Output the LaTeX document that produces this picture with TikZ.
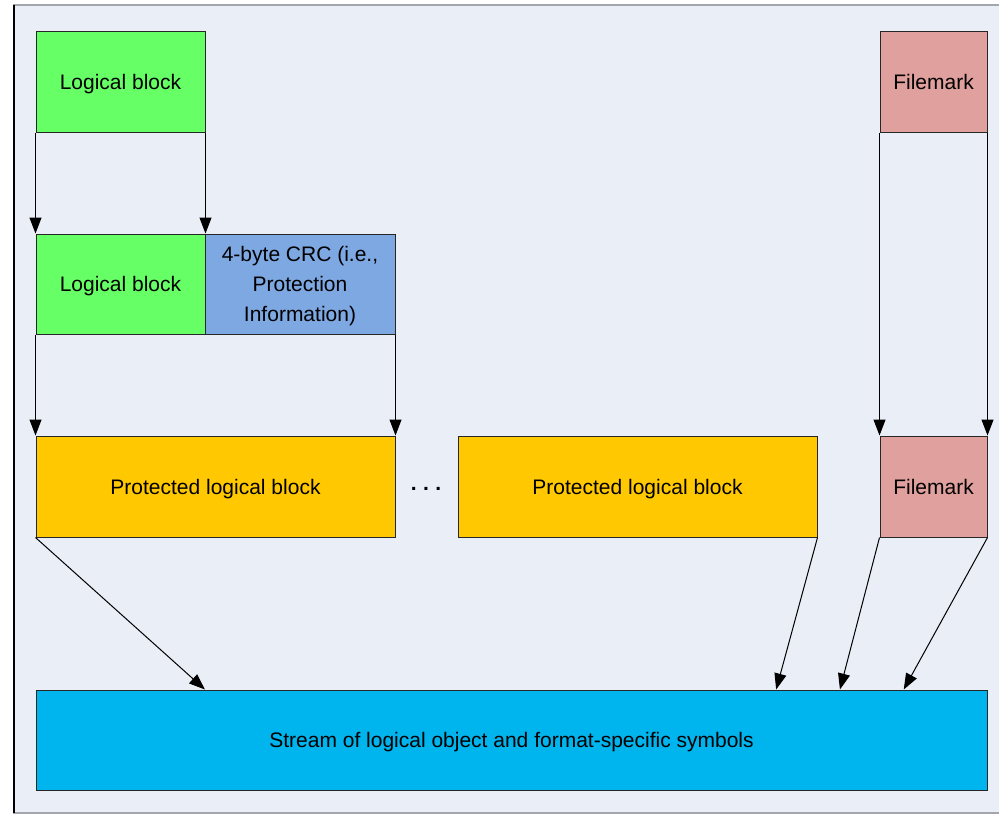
\documentclass[tikz,border=0pt]{standalone}
\usepackage{fontspec}
\setmainfont{Liberation Sans}
\usetikzlibrary{arrows.meta,calc}

\definecolor{lbgreen}{HTML}{66FF66}
\definecolor{crcblue}{HTML}{7DA8E2}
\definecolor{fmpink}{HTML}{E0A09D}
\definecolor{pbyellow}{HTML}{FFC800}
\definecolor{streamcyan}{HTML}{00B4EE}
\definecolor{framebg}{HTML}{E9EEF7}

\begin{document}
\begin{tikzpicture}[x=0.5pt, y=-0.5pt,
  box/.style={draw=black!85, line width=0.5pt, inner sep=0pt, align=center,
    text depth=0pt, font=\fontsize{10.5}{15}\selectfont},
  link/.style={black, line width=0.5pt, -{Triangle[length=8pt,width=6pt]}}]
\useasboundingbox (0,0) rectangle (999,815);
\fill [white] (0,0) rectangle (999,815);
\draw [framebg!70!black, line width=1pt, fill=framebg] (14,5) rectangle (1010,813);
\draw [black, line width=1pt] (14,5) -- (14,813);

% top row
\node [box, fill=lbgreen, minimum width=84.5pt, minimum height=50.5pt] (lbtop) at (120.5,81.5) {Logical block};
\node [box, fill=fmpink, minimum width=53.5pt, minimum height=50.5pt] (fmtop) at (933.5,81.5) {Filemark};

% block plus crc
\node [box, fill=lbgreen, minimum width=84.5pt, minimum height=50pt] (lbmid) at (120.5,284) {Logical block};
\node [box, fill=crcblue, minimum width=95pt, minimum height=50pt] (crc) at (300,284) {4-byte CRC (i.e.,\\Protection\\Information)};

% protected blocks
\node [box, fill=pbyellow, minimum width=179.5pt, minimum height=50.5pt] (pbone) at (215.5,486.5) {Protected logical block};
\node [font=\fontsize{10.5}{15}\selectfont] (dots) at (426,489) {\textbf{.\hspace{3.2pt}.\hspace{3.2pt}.}};
\node [box, fill=pbyellow, minimum width=179.5pt, minimum height=50.5pt] (pbtwo) at (637.5,486.5) {Protected logical block};
\node [box, fill=fmpink, minimum width=53.5pt, minimum height=50.5pt] (fmlow) at (933.5,486.5) {Filemark};

% stream
\node [box, fill=streamcyan, minimum width=475.5pt, minimum height=50pt] (stream) at (511.5,740) {Stream of logical object and format-specific symbols};

\draw [link] (lbtop.south west) -- (lbmid.north west);
\draw [link] (lbtop.south east) -- (lbmid.north east);
\draw [link] (lbmid.south west) -- (pbone.north west);
\draw [link] (crc.south east) -- (pbone.north east);
\draw [link] (fmtop.south west) -- (fmlow.north west);
\draw [link] (fmtop.south east) -- (fmlow.north east);

\draw [link] (pbone.south west) -- ($(stream.north west)!0.178!(stream.north east)$);
\draw [link] (pbtwo.south east) -- ($(stream.north west)!0.778!(stream.north east)$);
\draw [link] (fmlow.south west) -- ($(stream.north west)!0.845!(stream.north east)$);
\draw [link] (fmlow.south east) -- ($(stream.north west)!0.912!(stream.north east)$);
\end{tikzpicture}
\end{document}
